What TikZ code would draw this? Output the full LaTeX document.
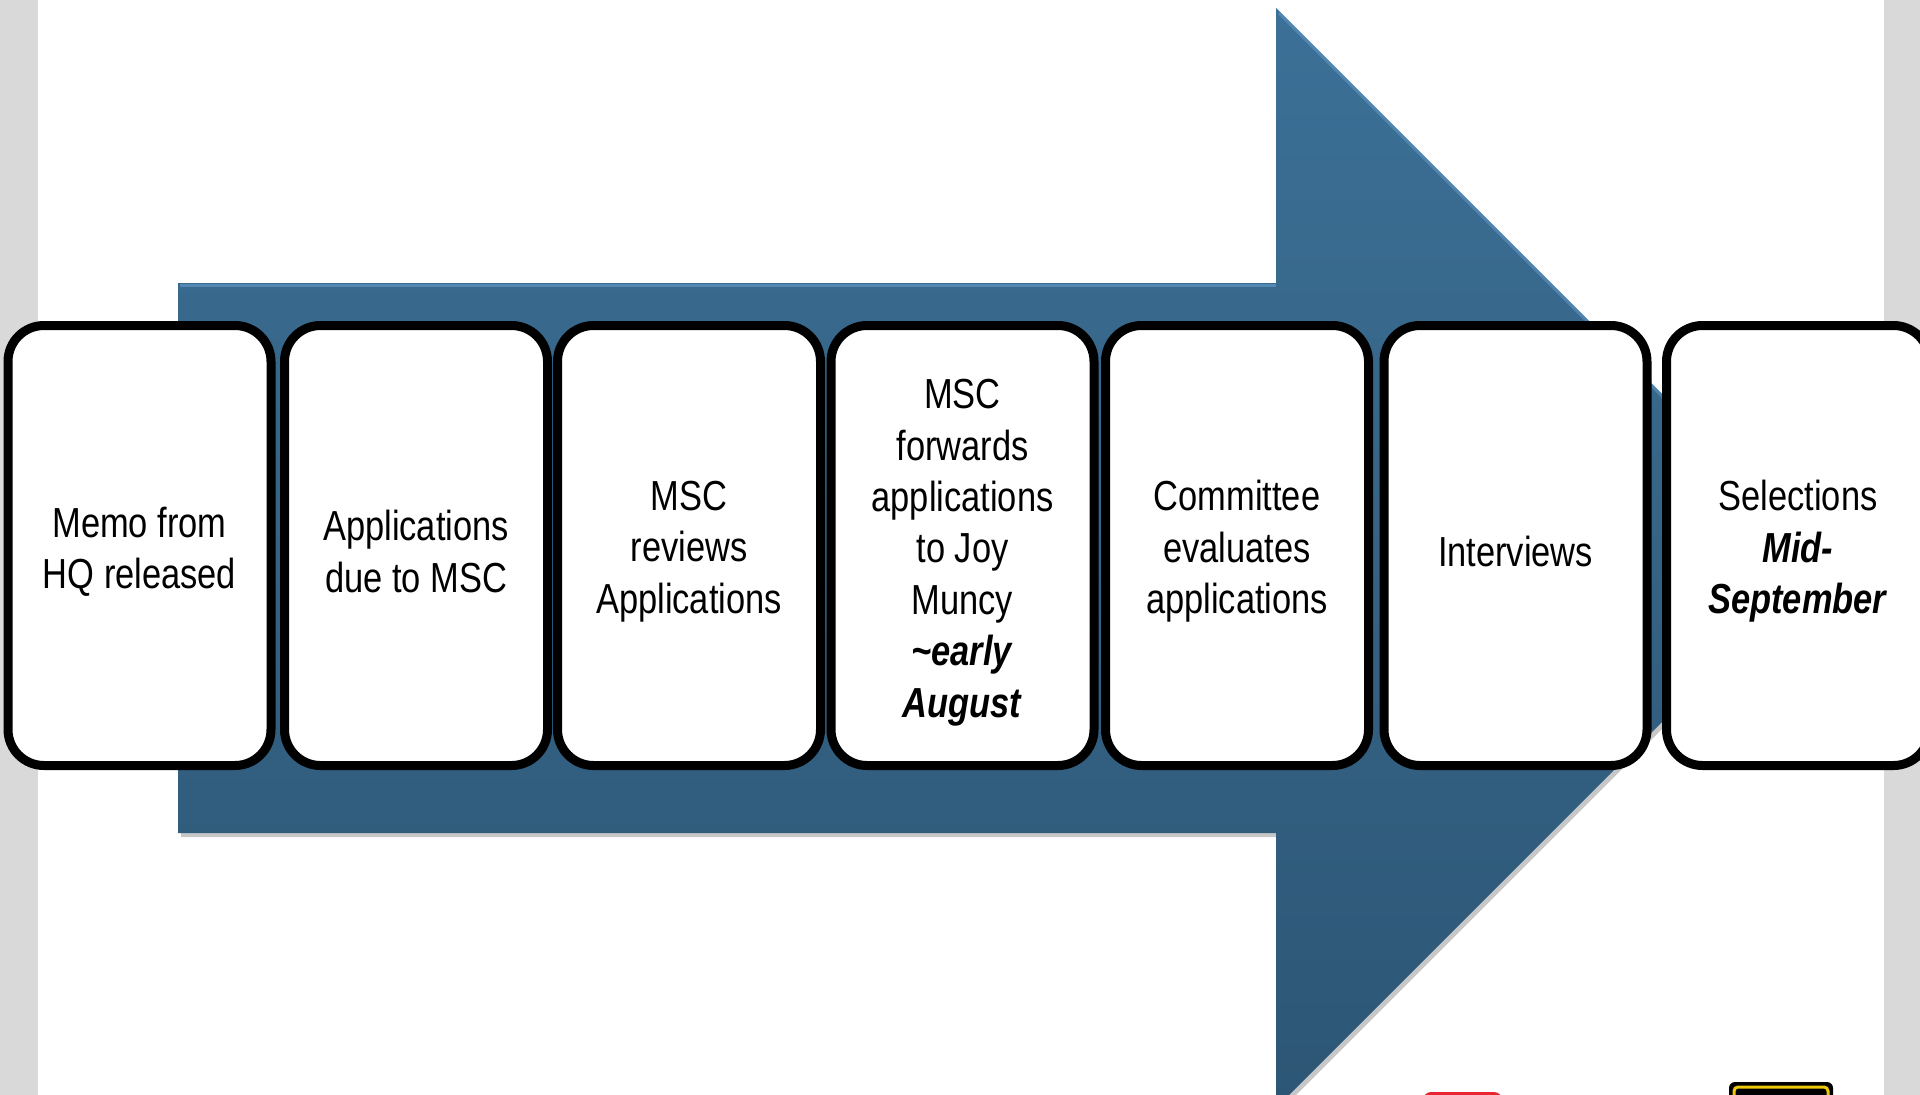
\documentclass[tikz,border=0pt]{standalone}
\usepackage{fontspec}
\setmainfont{Liberation Sans}[FakeStretch=0.82]
\definecolor{stripgray}{RGB}{217,217,217}
\definecolor{arrowtop}{RGB}{60,112,150}
\definecolor{arrowbot}{RGB}{45,86,117}
\definecolor{arrowhi}{RGB}{95,150,198}
\definecolor{redmark}{RGB}{232,38,52}
\definecolor{yellowmark}{RGB}{240,200,10}
\begin{document}
\begin{tikzpicture}[x=1pt,y=-1pt,
  stepbox/.style={draw=black, line width=9pt, fill=white, rounded corners=36pt,
    minimum width=263pt, minimum height=440pt, inner sep=0pt},
  steptext/.style={align=center, inner sep=0pt, font=\fontsize{42}{51.4}\selectfont},
]
\useasboundingbox (0,0) rectangle (1920,1095);
\clip (0,0) rectangle (1920,1095);
\fill[white] (0,0) rectangle (1920,1095);
\fill[stripgray] (0,0) rectangle (38,1095);
\fill[stripgray] (1884,0) rectangle (1920,1095);
% arrow shadow
\fill[black,opacity=0.22,shift={(3,4)}] (178,283) -- (1276,283) -- (1276,8) -- (1826,558) -- (1276,1108) -- (1276,833) -- (178,833) -- cycle;
% arrow
\shade[top color=arrowtop, bottom color=arrowbot] (178,283) -- (1276,283) -- (1276,8) -- (1826,558) -- (1276,1108) -- (1276,833) -- (178,833) -- cycle;
\draw[arrowhi, line width=3pt, opacity=0.7] (180,285) -- (1276,285);
\draw[arrowhi, line width=3pt, opacity=0.6] (1279,13) -- (1822,556);
% step boxes
\node[stepbox] (s1) at (139.5,545.5) {};
\node[stepbox] (s2) at (416,545.5) {};
\node[stepbox] (s3) at (689,545.5) {};
\node[stepbox] (s4) at (962.5,545.5) {};
\node[stepbox] (s5) at (1237,545.5) {};
\node[stepbox] (s6) at (1515.5,545.5) {};
\node[stepbox] (s7) at (1798,545.5) {};
% step texts
\node[steptext] (t1) at ([yshift=-6pt]s1.center) {Memo from\\HQ released};
\node[steptext] (t2) at ([yshift=-6pt]s2.center) {Applications\\due to MSC};
\node[steptext] (t3) at ([yshift=-6pt]s3.center) {MSC\\reviews\\Applications};
\node[steptext] (t4) at ([yshift=-7pt]s4.center) {MSC\\forwards\\applications\\to Joy\\Muncy\\\textbf{\textit{\textasciitilde early}}\\\textbf{\textit{August}}};
\node[steptext] (t5) at ([yshift=-6pt]s5.center) {Committee\\evaluates\\applications};
\node[steptext] (t6) at ([yshift=-6pt]s6.center) {Interviews};
\node[steptext] (t7) at ([yshift=-6pt]s7.center) {Selections\\\textbf{\textit{Mid-}}\\\textbf{\textit{September}}};
% bottom marks
\fill[redmark, rounded corners=8pt] (1423,1092) rectangle (1502,1125);
\fill[black, rounded corners=6pt] (1729,1082) rectangle (1833,1125);
\draw[yellowmark, line width=3pt, rounded corners=4pt] (1734,1087) rectangle (1828,1125);
\end{tikzpicture}
\end{document}
